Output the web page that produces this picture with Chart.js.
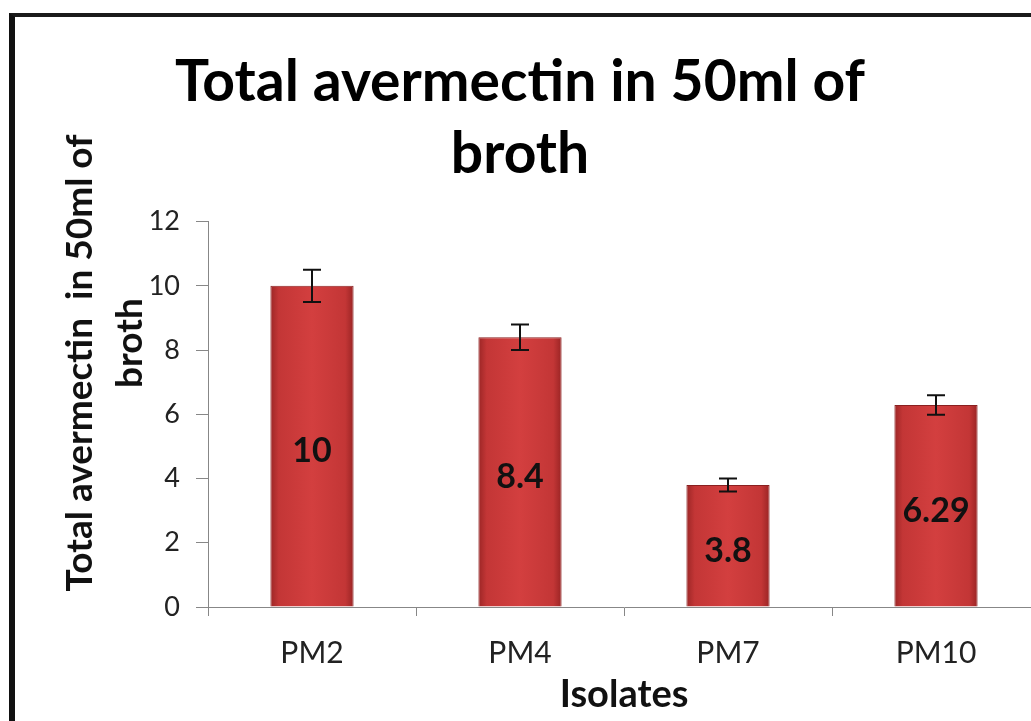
<!DOCTYPE html>
<html>
<head>
<meta charset="utf-8">
<script src="https://cdn.jsdelivr.net/npm/chart.js@4/dist/chart.umd.min.js"></script>
<style>
  html, body { margin: 0; padding: 0; background: #fff; overflow: hidden; }
  #wrap { position: absolute; left: 0; top: 0; width: 1050px; height: 721px; }
  #frame { position: absolute; left: 9px; top: 13px; width: 1100px; height: 800px;
           border-left: 6px solid #111; border-top: 4px solid #1a1a1a; pointer-events: none; }
</style>
</head>
<body>
<div id="wrap"><canvas id="chart"></canvas></div>
<div id="frame"></div>
<script>
'use strict';

// ===== data =====
const ISOLATES = ['PM2', 'PM4', 'PM7', 'PM10'];
const AVERMECTIN = [10, 8.4, 3.8, 6.29];
const ERRORS = [0.5, 0.4, 0.2, 0.3];
const BAR_LABELS = ['10', '8.4', '3.8', '6.29'];
const Y_MIN = 0;
const Y_MAX = 12;
const Y_STEP = 2;
const TITLE_LINES = ['Total avermectin in 50ml of', 'broth'];
const Y_TITLE_LINES = ['Total avermectin  in 50ml of', 'broth'];
const X_TITLE = 'Isolates';

const FONT = 'Lato';
const AXIS_GREY = '#878787';

// horizontal bevel-ish gradient for each bar
function barFill(context) {
    const chart = context.chart;
    if (!chart.chartArea) return '#c93a3a';
    const xs = chart.scales.x;
    const cx = xs.getPixelForValue(context.dataIndex);
    const half = xs.width / ISOLATES.length * 0.4 / 2;
    const g = chart.ctx.createLinearGradient(cx - half, 0, cx + half, 0);
    g.addColorStop(0, '#9c2626');
    g.addColorStop(0.1, '#c33636');
    g.addColorStop(0.5, '#d33f3f');
    g.addColorStop(0.9, '#c33636');
    g.addColorStop(1, '#9a2424');
    return g;
}

// error bars drawn on top of the bars
const errorBars = {
    id: 'errorBars',
    afterDatasetsDraw(chart) {
        const {ctx, scales: {x, y}} = chart;
        ctx.save();
        ctx.strokeStyle = '#111';
        ctx.lineWidth = 2;
        AVERMECTIN.forEach((v, i) => {
            const cx = x.getPixelForValue(i);
            const top = y.getPixelForValue(v + ERRORS[i]);
            const bot = y.getPixelForValue(v - ERRORS[i]);
            ctx.beginPath();
            ctx.moveTo(cx, top); ctx.lineTo(cx, bot);
            ctx.moveTo(cx - 9, top); ctx.lineTo(cx + 9, top);
            ctx.moveTo(cx - 9, bot); ctx.lineTo(cx + 9, bot);
            ctx.stroke();
        });
        ctx.restore();
    }
};

// value labels in the middle of each bar
const barValues = {
    id: 'barValues',
    afterDatasetsDraw(chart) {
        const ctx = chart.ctx;
        const bars = chart.getDatasetMeta(0).data;
        ctx.save();
        ctx.font = 'bold 34px ' + FONT;
        ctx.fillStyle = '#111';
        ctx.textAlign = 'center';
        ctx.textBaseline = 'middle';
        bars.forEach((bar, i) => {
            ctx.fillText(BAR_LABELS[i], bar.x, (bar.y + bar.base) / 2 + 5);
        });
        ctx.restore();
    }
};

// y axis title, two rotated lines
const yTitle = {
    id: 'yTitle',
    afterDraw(chart) {
        const ctx = chart.ctx;
        const spots = [[80, 363], [130, 343]];
        ctx.save();
        ctx.font = 'bold 37px ' + FONT;
        ctx.fillStyle = '#111';
        ctx.textAlign = 'center';
        ctx.textBaseline = 'middle';
        Y_TITLE_LINES.forEach((line, i) => {
            ctx.save();
            ctx.translate(spots[i][0], spots[i][1]);
            ctx.rotate(-Math.PI / 2);
            ctx.fillText(line, 0, 0);
            ctx.restore();
        });
        ctx.restore();
    }
};

new Chart(document.getElementById('chart'), {
    type: 'bar',
    data: {
        labels: ISOLATES,
        datasets: [{
            data: AVERMECTIN,
            backgroundColor: barFill,
            borderColor: '#8a2020',
            borderWidth: 1,
            categoryPercentage: 1,
            barPercentage: 0.4
        }]
    },
    options: {
        responsive: true,
        maintainAspectRatio: false,
        animation: false,
        layout: { padding: { top: 0, left: 0, right: 10, bottom: 0 } },
        plugins: {
            legend: { display: false },
            tooltip: { enabled: false },
            title: {
                display: true,
                text: TITLE_LINES,
                color: '#000',
                font: { family: FONT, size: 57, weight: 'bold', lineHeight: 1.26 },
                padding: { top: 47, bottom: 31 }
            }
        },
        scales: {
            x: {
                afterFit(s) { s.height = 114; },
                grid: { offset: true, drawOnChartArea: false, drawTicks: true, tickLength: 9, color: AXIS_GREY },
                border: { display: true, color: AXIS_GREY, width: 1 },
                ticks: { color: '#222', padding: 19, font: { family: FONT, size: 30 } },
                title: {
                    display: true,
                    text: X_TITLE,
                    color: '#111',
                    font: { family: FONT, size: 38, weight: 'bold' },
                    padding: { top: 5, bottom: 3 }
                }
            },
            y: {
                afterFit(s) { s.width = 208; },
                min: Y_MIN,
                max: Y_MAX,
                grid: { drawOnChartArea: false, drawTicks: true, tickLength: 12, color: AXIS_GREY },
                border: { display: true, color: AXIS_GREY, width: 1 },
                ticks: { stepSize: Y_STEP, color: '#222', padding: 16, font: { family: FONT, size: 27 } }
            }
        }
    },
    plugins: [errorBars, barValues, yTitle]
});
</script>
</body>
</html>
